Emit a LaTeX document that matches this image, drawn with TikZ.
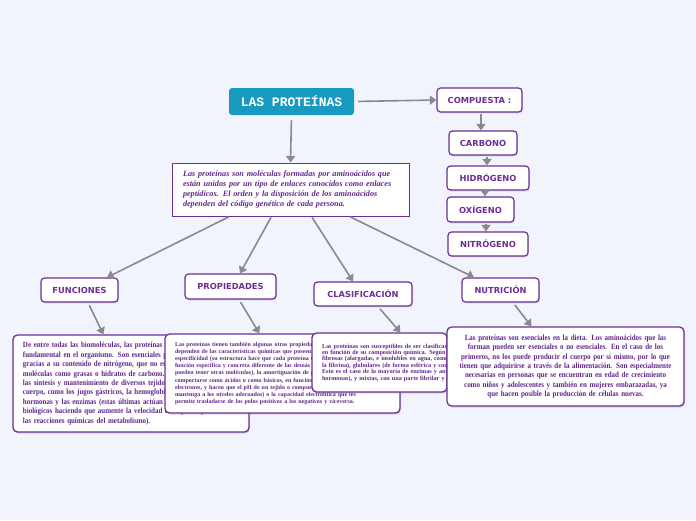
\documentclass[tikz,border=0pt]{standalone}
\usepackage{fontspec}
\setmainfont{Liberation Serif}
\newfontfamily\condfont{Liberation Serif}[FakeStretch=0.87]
\newfontfamily\labfont{DejaVu Sans}
\newfontfamily\ttlfont{Liberation Mono}
\usetikzlibrary{shadows,arrows.meta}
\newcommand\ovl[1]{\leavevmode\rlap{#1}}
\definecolor{bgc}{RGB}{242,244,253}
\definecolor{pur}{RGB}{108,46,148}
\definecolor{txp}{RGB}{98,38,140}
\definecolor{tealc}{RGB}{24,154,192}
\definecolor{arrc}{RGB}{138,138,142}
\tikzset{
  ttl/.style={fill=tealc, rounded corners=3pt, text=white, inner sep=0pt,
    font=\ttlfont\bfseries\fontsize{13}{15}\selectfont},
  lbl/.style={draw=pur, line width=1.2pt, fill=white, rounded corners=3.5pt, text=pur,
    inner sep=0pt, font=\labfont\bfseries\fontsize{8.3}{10}\selectfont,
    drop shadow={shadow xshift=0.8pt, shadow yshift=-1.3pt, opacity=0.28}},
  cbx/.style={draw=pur, line width=1pt, fill=white, text=txp, align=left,
    inner xsep=11pt, inner ysep=0pt,
    font=\bfseries\itshape\fontsize{8.2}{10.3}\selectfont,
    drop shadow={shadow xshift=0.8pt, shadow yshift=-1.3pt, opacity=0.25}},
  tbox/.style={draw=pur, line width=1.3pt, fill=white, rounded corners=4.5pt, text=txp,
    align=left, inner xsep=10pt, inner ysep=0pt,
    drop shadow={shadow xshift=1pt, shadow yshift=-1.5pt, opacity=0.28}},
  con/.style={draw=arrc, line width=1.6pt, -{Triangle[length=6.5pt,width=9pt]}},
}
\begin{document}
\begin{tikzpicture}[x=1pt,y=-1pt]
\fill[bgc] (0,0) rectangle (696,520);
\useasboundingbox (0,0) rectangle (696,520);

\node[ttl, minimum width=125pt, minimum height=27pt] (title) at (291.5,101.5) {LAS PROTEÍNAS};

\node[lbl, minimum width=85pt, minimum height=24pt] (comp) at (479.5,100) {COMPUESTA :};
\node[lbl, minimum width=68pt, minimum height=24pt] (carb) at (483,143) {CARBONO};
\node[lbl, minimum width=82pt, minimum height=24pt] (hidr) at (488,178) {HIDRÓGENO};
\node[lbl, minimum width=67pt, minimum height=25pt] (oxig) at (480.5,209.5) {OXÍGENO};
\node[lbl, minimum width=80pt, minimum height=24pt] (nitr) at (488,244) {NITRÓGENO};

\node[cbx, text width=215pt, minimum height=53pt] (central) at (290.5,189.5)
  {\ovl{Las proteínas son moléculas formadas por aminoácidos que}\\
   \ovl{están unidos por un tipo de enlaces conocidos como enlaces}\\
   \ovl{peptídicos. El orden y la disposición de los aminoácidos}\\
   \ovl{dependen del código genético de cada persona.}};

\node[lbl, minimum width=77pt, minimum height=24pt] (func) at (79.5,290) {FUNCIONES};
\node[lbl, minimum width=91pt, minimum height=25pt] (prop) at (230.5,286.5) {PROPIEDADES};
\node[lbl, minimum width=98pt, minimum height=24pt] (clas) at (363,294) {CLASIFICACIÓN};
\node[lbl, minimum width=77pt, minimum height=24pt] (nutr) at (500.5,290) {NUTRICIÓN};

\node[tbox, text width=216pt, minimum height=97pt,
      font=\condfont\bfseries\fontsize{8}{9.4}\selectfont] (fbox) at (131,383.5)
  {\ovl{De entre todas las biomoléculas, las proteínas desempeñan un papel}\\
   \ovl{fundamental en el organismo. Son esenciales para el crecimiento,}\\
   \ovl{gracias a su contenido de nitrógeno, que no está presente en otras}\\
   \ovl{moléculas como grasas o hidratos de carbono. También lo son para}\\
   \ovl{las síntesis y mantenimiento de diversos tejidos o componentes del}\\
   \ovl{cuerpo, como los jugos gástricos, la hemoglobina, las vitaminas,}\\
   \ovl{hormonas y las enzimas (estas últimas actúan como catalizadores}\\
   \ovl{biológicos haciendo que aumente la velocidad a la que se producen}\\
   \ovl{las reacciones químicas del metabolismo).}};

\node[tbox, text width=215pt, minimum height=79pt,
      font=\bfseries\fontsize{6}{7.2}\selectfont] (pbox) at (282.5,373.5)
  {\ovl{Las proteínas tienen también algunas otras propiedades que}\\
   \ovl{dependen de las características químicas que poseen: la}\\
   \ovl{especificidad (su estructura hace que cada proteína tenga una}\\
   \ovl{función específica y concreta diferente de las demás y que no}\\
   \ovl{pueden tener otras moléculas), la amortiguación de pH (pueden}\\
   \ovl{comportarse como ácidos o como básicos, en función de los}\\
   \ovl{electrones, y hacen que el pH de un tejido o compuesto se}\\
   \ovl{mantenga a los niveles adecuados) o la capacidad electrolítica que les}\\
   \ovl{permite trasladarse de los polos positivos a los negativos y viceversa.}};

\node[tbox, text width=115pt, minimum height=59pt,
      font=\bfseries\fontsize{6.2}{6.4}\selectfont] (cbox) at (379.5,362.5)
  {\ovl{Las proteínas son susceptibles de ser clasificadas}\\
   \ovl{en función de su composición química. Según su forma}\\
   \ovl{fibrosas (alargadas, e insolubles en agua, como la}\\
   \ovl{la fibrina), globulares (de forma esférica y compacta}\\
   \ovl{Esto es el caso de la mayoría de enzimas y anticuerpos}\\
   \ovl{hormonas), y mixtas, con una parte fibrilar y otra globular.}};

\node[tbox, align=center, text width=217pt, minimum height=79pt,
      font=\condfont\bfseries\fontsize{8}{9.3}\selectfont] (nbox) at (565.5,366.5)
  {Las proteínas son esenciales en la dieta. Los aminoácidos que las\\
   forman pueden ser esenciales o no esenciales. En el caso de los\\
   primeros, no los puede producir el cuerpo por sí mismo, por lo que\\
   tienen que adquirirse a través de la alimentación. Son especialmente\\
   necesarias en personas que se encuentran en edad de crecimiento\\
   como niños y adolescentes y también en mujeres embarazadas, ya\\
   que hacen posible la producción de células nuevas.};

% connectors
\draw[con, shorten <=4pt] (title.east) -- (comp.west);
\draw[con, shorten <=5pt] (title.south) -- (central.north);
\draw[con, shorten <=1pt] ([xshift=1.5pt]comp.south) -- ([xshift=-2pt]carb.north);
\draw[con, shorten <=1pt] ([xshift=4pt]carb.south) -- ([xshift=-1pt]hidr.north);
\draw[con] ([xshift=-3pt]hidr.south) -- ([xshift=4.5pt]oxig.north);
\draw[con, shorten <=1pt] ([xshift=5.5pt]oxig.south) -- ([xshift=-2pt]nitr.north);

\draw[con, shorten <=1pt] ([xshift=58pt]central.south west) -- ([xshift=27.5pt]func.north);
\draw[con, shorten <=1pt] ([xshift=100pt]central.south west) -- ([xshift=9.5pt]prop.north);
\draw[con, shorten <=1pt] ([xshift=140pt]central.south west) -- ([xshift=-10pt]clas.north);
\draw[con, shorten <=1pt] ([xshift=178pt]central.south west) -- ([xshift=-26.5pt]nutr.north);

\draw[con, shorten <=3pt] ([xshift=8.5pt]func.south) -- ([xshift=91pt]fbox.north west);
\draw[con, shorten <=3pt] ([xshift=8.5pt]prop.south) -- ([xshift=95pt]pbox.north west);
\draw[con, shorten <=3pt] ([xshift=15pt]clas.south) -- ([xshift=89pt]cbox.north west);
\draw[con, shorten <=3pt] ([xshift=12.5pt]nutr.south) -- ([xshift=85pt]nbox.north west);
\end{tikzpicture}
\end{document}
